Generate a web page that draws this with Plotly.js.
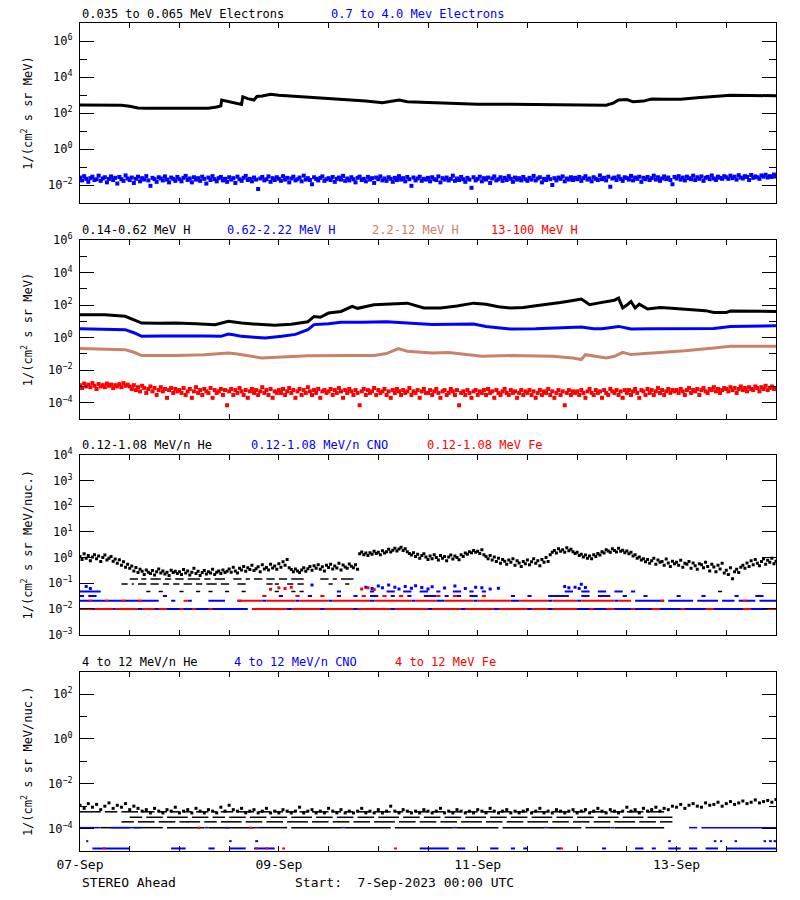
<!DOCTYPE html>
<html>
<head>
<meta charset="utf-8">
<script src="https://cdn.plot.ly/plotly-3.0.1.min.js"></script>
<style>html,body{margin:0;padding:0;background:#fff;}#chart{width:800px;height:900px;}</style>
</head>
<body>
<div id="chart"></div>
<script>
// ---------- time axis (hours since 7-Sep-2023 00:00 UTC) ----------
const labelHours = [0,48,96,144];
const labelDates = ['07-Sep','09-Sep','11-Sep','13-Sep'];

// ---------- panel 1: electrons ----------
const e1Hours = [0,6,10,12,14,16,20,24,28,31,33,34,34.2,36,38,39,39.3,40.5,42,42.7,44,46,48,53,57,61,65,69,73,76,77,79,84,90,96,104,112,119,124,127,128.7,130,132,133.5,136,138,142,145,149,153,157,162,168];
const e1Flux = [275,275,270,240,190,182,186,186,182,182,214,250,525,417,331,302,794,631,525,832,891,1096,955,813,708,603,525,457,372,457,525,417,380,363,309,302,288,257,263,269,355,525,562,417,457,603,589,589,708,813,955,933,912];
// 0.7-4.0 MeV electrons, half-hourly
const e2Flux = [
.026,.018,.031,.022,.015,.024,.029,.019,.021,.033,.017,.023,.027,.014,.022,.030,.019,.025,.012,.028,.021,.017,.034,.023,
.019,.026,.013,.022,.029,.016,.024,.020,.031,.018,.009,.025,.021,.015,.027,.023,.018,.030,.020,.014,.026,.022,.017,.028,
.021,.016,.025,.032,.019,.023,.014,.027,.020,.024,.017,.029,.022,.012,.026,.019,.031,.021,.016,.024,.028,.018,.022,.015,
.027,.020,.024,.013,.029,.021,.017,.025,.032,.019,.022,.016,.026,.020,.006,.023,.028,.018,.021,.030,.015,.024,.019,.027,
.022,.017,.031,.020,.025,.014,.023,.029,.018,.021,.026,.016,.033,.020,.024,.019,.011,.027,.022,.018,.025,.030,.017,.021,
.024,.019,.028,.015,.022,.026,.020,.032,.017,.023,.018,.027,.021,.014,.025,.029,.019,.022,.016,.028,.020,.024,.013,.026,
.021,.030,.018,.023,.017,.027,.022,.015,.025,.019,.031,.020,.024,.016,.028,.021,.009,.026,.018,.023,.029,.017,.022,.020,
.025,.016,.027,.021,.019,.030,.014,.024,.020,.026,.018,.022,.033,.017,.023,.019,.028,.021,.015,.025,.020,.007,.027,.018,
.022,.029,.016,.024,.020,.026,.013,.023,.030,.018,.021,.027,.017,.025,.019,.031,.022,.015,.026,.020,.024,.018,.028,.021,
.017,.025,.020,.032,.018,.023,.027,.014,.022,.019,.029,.021,.010,.024,.018,.026,.022,.030,.016,.023,.020,.027,.019,.025,
.021,.028,.017,.024,.031,.020,.023,.016,.027,.022,.019,.034,.021,.025,.018,.029,.008,.023,.026,.019,.030,.022,.017,.027,
.024,.020,.032,.018,.026,.022,.029,.015,.025,.021,.028,.019,.024,.033,.020,.027,.017,.023,.030,.021,.026,.019,.011,.028,
.023,.031,.020,.026,.018,.029,.024,.021,.033,.019,.027,.022,.030,.017,.025,.028,.021,.034,.023,.019,.029,.025,.022,.031,
.027,.022,.033,.024,.029,.020,.035,.026,.023,.031,.028,.019,.036,.025,.030,.027,.022,.034,.029,.037,.026,.031,.028,.038,
.030];

// ---------- panel 2: protons ----------
const h1Hours = [0,6,10.9,13,14.9,19,23,28,32.6,35.8,37,39,43,47,51,55,56.5,58,60,63,65.7,67,71,75,79,83,87,91,95,98,101,104,107,110,113,116,119,121,122,123,125,127,129,130,131,132,133,134,135,137,140,142,145,148,151,153,156,157,162,168];
const h1Flux = [25.7,25.1,20.4,12.6,7.9,7.6,7.9,7.2,6.3,10.0,9.1,7.9,6.6,5.8,6.6,9.5,20.0,17.8,32.4,40.7,83.2,63.1,104.7,112.2,131.8,66.1,66.1,89.1,131.8,112.2,79.4,66.1,70.8,91.2,112.2,144.5,190.5,234.4,158.5,104.7,131.8,166.0,199.5,269.2,66.1,100,166.0,66.1,114.8,57.5,70.8,66.1,60.3,51.3,45.7,35.5,35.5,42.7,41.7,40.7];
const h2Hours = [0,6,10.9,13,14.9,20,25,30,34,35.8,37,39,42,44.7,48.7,52,55,56.5,60,63,68,74,79,85,90,95,98,104,110,115,121,124,126,130,133,138,145,153,157,162,168];
const h2Flux = [3.55,3.39,3.09,2.0,1.20,1.26,1.32,1.26,1.20,1.66,1.51,1.20,1.05,0.95,1.20,1.58,3.09,6.31,7.08,8.71,8.91,9.55,7.94,6.31,6.61,6.92,4.90,3.39,3.55,3.80,4.47,3.55,3.55,4.90,3.39,3.55,3.63,3.63,4.90,5.25,5.37];
const h3Hours = [0,10.9,13,14.9,23,30,35.8,38,43.9,50,55,65,71,74,76.8,79,85,89,97,104,114,119,121,122,124,127,129,131,133,138,146,153,157,168];
const h3Flux = [0.214,0.182,0.126,0.079,0.079,0.089,0.115,0.100,0.056,0.063,0.076,0.079,0.079,0.105,0.214,0.145,0.115,0.120,0.072,0.079,0.072,0.056,0.045,0.089,0.071,0.056,0.071,0.126,0.091,0.112,0.158,0.234,0.295,0.295];
// 13-100 MeV H, half-hourly
const h4Flux = [
.0012,.0008,.0015,.0010,.0013,.0009,.0016,.0011,.0007,.0014,.0010,.0012,.0009,.0015,.0011,.0013,.0008,.0012,.0010,.0014,.0009,.0016,.0011,.0013,
.0010,.0007,.0012,.0006,.0009,.0005,.0011,.0008,.0004,.0007,.0010,.0005,.0008,.0003,.0006,.0009,.0005,.0007,.0002,.0006,.0008,.0004,.0007,.0005,
.0006,.0004,.0008,.0003,.0005,.0007,.0002,.0005,.0009,.0004,.0006,.0003,.0007,.0005,.0004,.0008,.0002,.0006,.0004,.0005,.0007,.0003,.0006,.00007,
.0005,.0007,.0003,.0006,.0004,.0008,.0005,.0003,.0006,.0002,.0005,.0007,.0004,.0006,.0003,.0005,.0009,.0004,.0006,.0003,.0007,.0002,.0005,.0004,
.0006,.0004,.0007,.0003,.0005,.0008,.0004,.0006,.0002,.0005,.0007,.0003,.0006,.0004,.0009,.0005,.0003,.0006,.0004,.0007,.0002,.0005,.0006,.0004,
.0005,.0007,.0003,.0006,.0004,.0008,.0005,.0002,.0006,.0004,.0007,.0005,.0003,.0006,.0004,.00007,.0005,.0007,.0003,.0006,.0004,.0005,.0008,.0003,
.0006,.0004,.0005,.0007,.0003,.0005,.0002,.0006,.0004,.0007,.0005,.0003,.0006,.0004,.0005,.0008,.0003,.0005,.0004,.0006,.0002,.0005,.0007,.0004,
.0004,.0006,.0003,.0005,.0007,.0004,.0002,.0005,.0006,.0003,.0004,.0007,.0005,.0003,.0006,.00007,.0004,.0005,.0003,.0006,.0004,.0002,.0005,.0006,
.0003,.0005,.0004,.0006,.0003,.0007,.0004,.0005,.0002,.0006,.0004,.0003,.0005,.0007,.0004,.0003,.0006,.0004,.0005,.0002,.0004,.0006,.0003,.0005,
.0004,.0006,.0003,.0005,.0002,.0004,.0006,.0003,.0005,.0004,.0007,.0003,.0005,.0002,.0004,.0006,.0003,.0005,.00007,.0004,.0006,.0003,.0005,.0004,
.0005,.0003,.0006,.0004,.0002,.0005,.0007,.0004,.0003,.0006,.0004,.0005,.0002,.0006,.0004,.0003,.0007,.0005,.0004,.0006,.0003,.0005,.0002,.0006,
.0004,.0006,.0003,.0005,.0007,.0004,.0002,.0006,.0005,.0003,.0007,.0004,.0006,.0003,.0005,.0008,.0004,.0006,.0003,.0005,.0007,.0004,.0006,.0005,
.0006,.0004,.0007,.0005,.0003,.0006,.0008,.0004,.0006,.0005,.0007,.0003,.0006,.0008,.0005,.0004,.0007,.0006,.0009,.0005,.0007,.0004,.0006,.0008,
.0007,.0005,.0009,.0006,.0008,.0004,.0007,.0010,.0006,.0008,.0005,.0009,.0007,.0006,.0010,.0008,.0005,.0009,.0007,.0011,.0006,.0008,.0010,.0007,
.0008];

// ---------- panel 3: 0.12-1.08 MeV/n ions ----------
// He, half-hourly
const he1Flux = [
1.1,0.85,1.4,0.95,1.2,0.75,1.05,1.3,0.9,1.15,0.7,1.0,1.25,0.8,0.95,1.1,0.72,0.88,0.6,0.82,0.5,0.68,0.42,0.55,
0.38,0.47,0.3,0.41,0.26,0.35,0.29,0.22,0.33,0.27,0.24,0.31,0.21,0.28,0.36,0.25,0.3,0.23,0.27,0.2,0.32,0.26,0.29,0.24,
0.28,0.22,0.34,0.25,0.3,0.21,0.27,0.38,0.24,0.29,0.2,0.26,0.31,0.23,0.28,0.25,0.35,0.22,0.27,0.3,0.24,0.33,0.26,0.29,
0.36,0.27,0.42,0.3,0.25,0.38,0.33,0.45,0.29,0.4,0.34,0.5,0.31,0.37,0.44,0.28,0.52,0.36,0.41,0.33,0.55,0.39,0.47,0.35,
0.58,0.42,0.68,0.5,0.85,0.4,0.34,0.28,0.36,0.3,0.26,0.33,0.4,0.29,0.37,0.45,0.32,0.48,0.38,0.52,0.35,0.44,0.3,0.5,
0.41,0.55,0.36,0.47,0.39,0.6,0.33,0.51,0.43,0.38,0.56,0.46,0.4,0.52,0.35,1.4,1.65,1.3,1.5,1.2,1.55,1.35,1.75,1.45,
1.6,1.3,1.85,1.5,1.7,2.1,1.65,1.95,2.3,1.8,2.15,2.5,1.9,2.2,1.7,1.45,1.25,1.55,1.1,1.35,0.95,1.2,1.4,1.05,
0.85,1.15,0.9,1.3,1.0,0.8,1.2,0.95,1.1,0.75,1.05,1.25,0.88,1.15,1.0,0.82,1.3,1.1,1.5,1.35,1.7,1.55,1.9,1.6,
1.75,1.45,2.0,1.3,1.1,0.9,1.2,0.8,1.05,0.7,0.95,0.6,0.85,0.72,0.55,0.8,0.66,0.9,0.5,0.75,0.62,0.45,0.7,0.58,
0.8,0.52,0.68,0.9,0.6,0.75,0.48,0.85,0.65,1.0,0.7,1.3,1.6,1.9,1.5,2.2,1.75,2.0,1.6,2.4,1.85,2.1,1.7,1.45,
1.6,1.2,1.35,1.05,1.25,0.95,1.15,0.9,1.3,1.1,1.45,1.25,1.7,1.5,2.0,1.8,1.6,2.2,1.9,1.65,2.3,1.75,1.95,1.55,
1.8,1.4,1.6,1.15,1.3,0.95,1.05,0.8,0.9,0.68,0.85,0.6,0.75,0.95,0.55,0.8,0.65,0.7,0.5,0.88,0.62,0.45,0.72,0.58,
0.65,0.5,0.78,0.42,0.6,0.55,0.7,0.38,0.62,0.48,0.35,0.58,0.52,0.4,0.66,0.45,0.3,0.55,0.43,0.28,0.5,0.36,0.6,0.25,
0.32,0.22,0.4,0.15,0.28,0.35,0.26,0.42,0.5,0.38,0.62,0.45,0.75,0.52,0.85,0.6,0.48,0.7,0.9,0.55,0.78,0.65,0.95,0.58,
0.72];
// count-limited levels of the low-energy instrument
const lowLevels = [0.0098, 0.0205, 0.032, 0.047, 0.093, 0.145];
// intervals (start hour, end hour) where each level was recorded
const heLevel5 = [10,11.5, 12.5,13, 14,16, 17,19, 20,21.5, 22.5,24, 25,27, 28,29.5, 30.5,33, 34,36, 38,40, 45,46.5, 47,48, 50,51.5, 52.5,54, 60,61, 64,65];
const heLevel6 = [12,14, 14.8,16, 17,19.5, 20.5,22, 23,25, 26,29, 30,31.5, 32.5,35, 37,39, 40,41, 42,44, 45,47, 48,50, 51,54, 58,60, 61,62, 63,66];
const heLevel4 = [16,17, 19,20, 24,25, 28,29, 31,32, 35,36, 39,40, 47,48, 51,52, 53,54, 154,155];
const cnoLevel1 = [0,40.5, 41.5,168];
const cnoLevel2 = [0,19, 22,23, 26,27, 31,35, 38,39, 44,45, 52,53, 60,61, 70,71, 80,81, 86,88, 95,96, 104,106, 113,114, 120,121, 129,130, 134,141, 142,148, 149,154, 155,158, 159,163, 164,168];
const cnoLevel3 = [0,1, 2,4, 20,21, 48,49, 55,56, 62,63, 66,67, 70,72, 75,76, 79,80, 83,86, 88,89, 91,92, 94,96, 104,105, 108,109, 113,118, 121,123, 125,128, 131,132, 136,137, 144,145, 150,151, 158,159, 163,165];
const cnoLevel4 = [0,5, 62,63, 70,71, 74,76, 78,80, 82,84, 86,87, 90,92, 94,95, 97,98, 117,119, 121,123, 125,127, 129,131, 133,134];
const feLevel1 = [0,3, 3.5,8, 8.5,14, 15,18, 19,21, 24,25, 27,28, 31,32, 41.5,50, 51,58, 59,66, 67,75, 76,84, 85,92, 93,100, 101,108, 109,113, 114,120, 123,124, 127,129, 133,134, 138,140, 145,146, 151,153, 160,162, 166,168];
const feLevel2 = [2,3, 6,7, 10,11, 14,15, 25,26, 38,44, 45,52, 53,60, 61,70, 71,80, 81,86, 88,95, 96,104, 106,113, 114,120, 121,129, 130,133, 140,141, 160,161];
const feLevel3 = [44,45, 52,53, 58,59, 68,69, 73,74, 77,78, 86,87, 90,91, 97,98];
const cnoHighHours = [1.5,2.5,56,69,70.5,72,73,74.5,76,77,78.5,80,81,82.5,84,85,88,90.5,93,95.5,97,99,101,117,118,119.5,120.5,121,122];
const cnoHighFlux = [0.075,0.062,0.085,0.07,0.062,0.078,0.066,0.085,0.07,0.06,0.074,0.064,0.08,0.068,0.06,0.072,0.065,0.078,0.062,0.07,0.066,0.06,0.064,0.075,0.066,0.07,0.062,0.092,0.068];
const feHighHours = [46,48,49.5,51,68,69.5,71];
const feHighFlux = [0.058,0.066,0.062,0.07,0.06,0.066,0.057];

// ---------- panel 4: 4-12 MeV/n ions ----------
const he2Flux = [
.0011,.0008,.0013,.0009,.0012,.0007,.0010,.0014,.0008,.0011,.0009,.0013,.0007,.0010,.0008,
.0006,.0007,.0005,.0008,.0006,.0005,.0007,.0006,.0009,.0005,.0006,.0007,.0005,.0008,.0006,.0005,.0007,.0006,.0005,.0009,.0006,.0011,.0007,.0006,.0008,.0005,
.0006,.0007,.0005,.0006,.0008,.0005,.0006,.0005,.0007,.0006,.0005,.0006,.0009,.0005,.0006,.0007,.0005,.0006,.0005,.0008,.0006,.0005,.0007,.0005,.0006,.0005,.0006,.0008,.0005,.0006,.0005,.0007,.0005,.0006,.0010,.0006,.0005,.0007,.0006,.0005,
.0006,.0005,.0007,.0006,.0005,.0006,.0008,.0005,.0006,.0005,.0007,.0006,.0005,.0006,.0005,.0007,.0006,.0005,.0008,.0006,.0005,.0006,.0007,.0005,.0006,.0005,.0006,.0007,.0005,.0006,.0008,.0005,.0006,.0005,.0007,.0006,.0005,.0006,.0007,.0005,
.0006,.0007,.0005,.0006,.0008,.0006,.0005,.0007,.0006,.0005,.0006,.0009,.0006,.0007,.0005,.0008,.0006,.0007,.0009,.0006,.0008,.0007,.0010,
.0009,.0012,.0008,.0011,.0013,.0010,.0009,.0014,.0011,.0012,.0015,.0010,.0013,.0016,.0012,.0014,.0017,.0013,.0015,.0019,.0014,.0016,.0018,.0015,.0020];
const highLevels = [0.000013, 0.0000275, 0.00011, 0.0002, 0.00032, 0.00056];
const he2Level6 = [0,5, 6,9, 10,14, 15,18, 19,21, 22,24, 25,27, 28,31, 32,33, 34,37, 38,42, 43,46, 47,49, 50,52, 53,55, 56,60, 61,63, 64,66, 67,70, 71,75, 76,78, 79,80, 81,84, 85,88, 89,92, 93,96, 97,100, 101,104, 105,108, 109,113, 114,118, 119,122, 123,127, 128,131, 132,136, 137,141];
const he2Level5 = [12,15, 16,20, 21,26, 27,31, 32,35, 36,40, 41,45, 46,50, 51,56, 57,61, 62,66, 67,71, 72,77, 78,82, 83,87, 88,92, 93,98, 99,103, 104,108, 109,114, 115,119, 120,124, 125,130, 131,136, 137,143];
const he2Level4 = [10,13, 14,18, 19,23, 24,29, 30,33, 34,39, 40,44, 45,49, 50,55, 56,60, 61,65, 66,70, 71,76, 77,81, 82,86, 87,91, 92,97, 98,102, 103,107, 108,113, 114,118, 119,123, 124,128, 129,134, 135,139, 140,143];
const he2Level3 = [5,12, 13,20, 21,30, 31,42, 43,50, 51,63, 64,75, 76,90, 91,101, 102,112, 113,121, 122,128, 129,141];
const cno2Level3 = [0,5, 7.5,14.7, 30,31, 35,36, 42,43, 63,64, 90,91, 112,113, 128,129, 147,149, 150,168];
const cno2Level1 = [3,12, 22,25.5, 31,32.5, 36,40, 42,47, 82,89, 91,93, 99,101, 104,105, 107,108, 115,116, 126,127, 134,136, 138,139, 142,145, 147,149, 151,154, 156,168];
const cno2Level2 = [1.5,2, 36,36.6, 42.3,43, 142,142.6, 153,153.6, 154.5,155, 158,158.6, 165,165.6, 166.3,167, 167.4,168];
const fe2Level1 = [5.5,6.2, 42.3,43, 44.8,45.5, 48.8,49.5, 75.8,76.5, 115.8,116.6];
const fe2Level3 = [28.3,29, 40.8,41.5];

// ---------- axis tick values ----------
const sup = e => '10<sup>' + (e < 0 ? '\u2212' + (-e) : e) + '</sup>';
const p1Exp = [-2,0,2,4,6],        p1Minor = [-1,1,3,5];
const p2Exp = [-4,-2,0,2,4,6],     p2Minor = [-3,-1,1,3,5];
const p3Exp = [-3,-2,-1,0,1,2,3,4];
const p4Exp = [-4,-2,0,2],         p4Minor = [-3,-1,1];

// ---------- build ----------
const BLUE = '#0000ff', RED = '#ff0000', TAN = '#c8826a', BLACK = '#000000';
const halfHours = arr => arr.map((_, i) => i * 0.5);
const hourly = arr => arr.map((_, i) => i);
function segments(pairs, level, color, xa, ya, width) {
  const x = [], y = [];
  for (let i = 0; i < pairs.length; i += 2) {
    x.push(pairs[i], pairs[i + 1], null);
    y.push(level, level, null);
  }
  return {x, y, xaxis: xa, yaxis: ya, type: 'scatter', mode: 'lines', hoverinfo: 'skip',
          line: {color, width: width || 2}, connectgaps: false, showlegend: false};
}
function dots(x, y, color, xa, ya, size) {
  return {x, y, xaxis: xa, yaxis: ya, type: 'scatter', mode: 'markers', showlegend: false,
          marker: {symbol: 'square', size: size || 3, color, line: {width: 0}}};
}
function line(x, y, color, xa, ya, w) {
  return {x, y, xaxis: xa, yaxis: ya, type: 'scatter', mode: 'lines', showlegend: false,
          line: {color, width: w || 3}};
}

const traces = [
  line(e1Hours, e1Flux, BLACK, 'x', 'y', 3),
  dots(halfHours(e2Flux), e2Flux, BLUE, 'x', 'y', 4),

  line(h1Hours, h1Flux, BLACK, 'x2', 'y2', 3),
  line(h2Hours, h2Flux, BLUE, 'x2', 'y2', 3),
  line(h3Hours, h3Flux, TAN, 'x2', 'y2', 3),
  dots(halfHours(h4Flux), h4Flux, RED, 'x2', 'y2', 4),

  segments(cnoLevel1, lowLevels[0], BLUE, 'x3', 'y3'),
  segments(feLevel1, lowLevels[0], RED, 'x3', 'y3'),
  segments(cnoLevel2, lowLevels[1], BLUE, 'x3', 'y3'),
  segments(feLevel2, lowLevels[1], RED, 'x3', 'y3'),
  segments(cnoLevel3, lowLevels[2], BLUE, 'x3', 'y3'),
  segments(feLevel3, lowLevels[2], RED, 'x3', 'y3'),
  segments(cnoLevel4, lowLevels[3], BLUE, 'x3', 'y3'),
  segments(heLevel4, lowLevels[3], BLACK, 'x3', 'y3', 1.5),
  segments(heLevel5, lowLevels[4], BLACK, 'x3', 'y3', 1.5),
  segments(heLevel6, lowLevels[5], BLACK, 'x3', 'y3', 1.5),
  dots(cnoHighHours, cnoHighFlux, BLUE, 'x3', 'y3', 3),
  dots(feHighHours, feHighFlux, RED, 'x3', 'y3', 3),
  dots(halfHours(he1Flux), he1Flux, BLACK, 'x3', 'y3', 3),

  segments(he2Level3, highLevels[2], BLACK, 'x4', 'y4', 1.5),
  segments(cno2Level3, highLevels[2], BLUE, 'x4', 'y4', 1.5),
  segments(fe2Level3, highLevels[2], RED, 'x4', 'y4'),
  segments(cno2Level1, highLevels[0], BLUE, 'x4', 'y4'),
  segments(fe2Level1, highLevels[0], RED, 'x4', 'y4'),
  segments(cno2Level2, highLevels[1], BLUE, 'x4', 'y4'),
  segments(he2Level4, highLevels[3], BLACK, 'x4', 'y4', 1.5),
  segments(he2Level5, highLevels[4], BLACK, 'x4', 'y4', 1.5),
  segments(he2Level6, highLevels[5], BLACK, 'x4', 'y4', 1.5),
  dots(hourly(he2Flux), he2Flux, BLACK, 'x4', 'y4', 3)
];

const FONT = 'DejaVu Sans Mono, monospace';
function xAxis(anchor, showLabels) {
  return {anchor, domain: [0, 1], range: [0, 168], type: 'linear',
    tickmode: 'array', tickvals: labelHours, ticktext: labelDates, showticklabels: showLabels,
    ticks: 'inside', ticklen: 5, tickwidth: 1, tickcolor: '#000',
    minor: {tick0: 0, dtick: 12, ticks: 'inside', ticklen: 5, tickwidth: 1, tickcolor: '#000', showgrid: false},
    showline: true, linecolor: '#000', linewidth: 1, mirror: 'ticks',
    showgrid: false, zeroline: false, fixedrange: true,
    tickfont: {family: FONT, size: 13, color: '#000'}, ticklabelstandoff: 1};
}
function yAxis(anchor, domain, range, exps, minorExps, title) {
  const ax = {anchor, domain, type: 'log', range,
    tickmode: 'array', tickvals: exps.map(e => Math.pow(10, e)), ticktext: exps.map(sup),
    ticks: 'inside', ticklen: 14, tickwidth: 1, tickcolor: '#000',
    showline: true, linecolor: '#000', linewidth: 1, mirror: 'ticks',
    showgrid: false, zeroline: false, fixedrange: true,
    tickfont: {family: FONT, size: 12, color: '#000'}, ticklabelstandoff: 4,
    title: {text: title, font: {family: FONT, size: 12, color: '#000'}, standoff: 12}};
  if (minorExps) ax.minor = {tickmode: 'array', tickvals: minorExps.map(e => Math.pow(10, e)),
                              ticks: 'inside', ticklen: 7, tickwidth: 1, tickcolor: '#000', showgrid: false};
  return ax;
}
const T1 = '1/(cm<sup>2</sup> s sr MeV)';
const T2 = '1/(cm<sup>2</sup> s sr MeV/nuc.)';

const PH = 828;
const py = p => (851 - p) / PH;     // pixel row -> paper fraction
const pxx = p => (p - 80) / 696;    // pixel column -> paper fraction
function label(text, x, y, color, size) {
  return {text, xref: 'paper', yref: 'paper', x: pxx(x), y: py(y), xanchor: 'left', yanchor: 'middle',
          showarrow: false, font: {family: FONT, size: size || 12, color}};
}

const layout = {
  width: 800, height: 900, paper_bgcolor: '#fff', plot_bgcolor: '#fff',
  margin: {l: 80, r: 24, t: 23, b: 49}, showlegend: false,
  font: {family: FONT, color: '#000'},
  xaxis: xAxis('y', false), xaxis2: xAxis('y2', false), xaxis3: xAxis('y3', false), xaxis4: xAxis('y4', true),
  yaxis: yAxis('x', [py(203), 1], [-3, 7], p1Exp, p1Minor, T1),
  yaxis2: yAxis('x2', [py(419), py(240)], [-5, 6], p2Exp, p2Minor, T1),
  yaxis3: yAxis('x3', [py(634.5), py(455)], [-3, 4], p3Exp, null, T2),
  yaxis4: yAxis('x4', [0, py(671.7)], [-5, 3], p4Exp, p4Minor, T2),
  annotations: [
    label('0.035 to 0.065 MeV Electrons', 80, 13.5, BLACK),
    label('0.7 to 4.0 Mev Electrons', 329, 13.5, BLUE),
    label('0.14-0.62 MeV H', 80, 230, BLACK),
    label('0.62-2.22 MeV H', 225, 230, BLUE),
    label('2.2-12 MeV H', 370, 230, TAN),
    label('13-100 MeV H', 489, 230, RED),
    label('0.12-1.08 MeV/n He', 80, 445.5, BLACK),
    label('0.12-1.08 MeV/n CNO', 249, 445.5, BLUE),
    label('0.12-1.08 MeV Fe', 425, 445.5, RED),
    label('4 to 12 MeV/n He', 80, 662, BLACK),
    label('4 to 12 MeV/n CNO', 232, 662, BLUE),
    label('4 to 12 MeV Fe', 393, 662, RED),
    label('STEREO Ahead', 80, 882, BLACK, 13),
    label('Start:  7-Sep-2023 00:00 UTC', 293, 882, BLACK, 13)
  ]
};

Plotly.newPlot('chart', traces, layout, {staticPlot: true, displayModeBar: false});
</script>
</body>
</html>
